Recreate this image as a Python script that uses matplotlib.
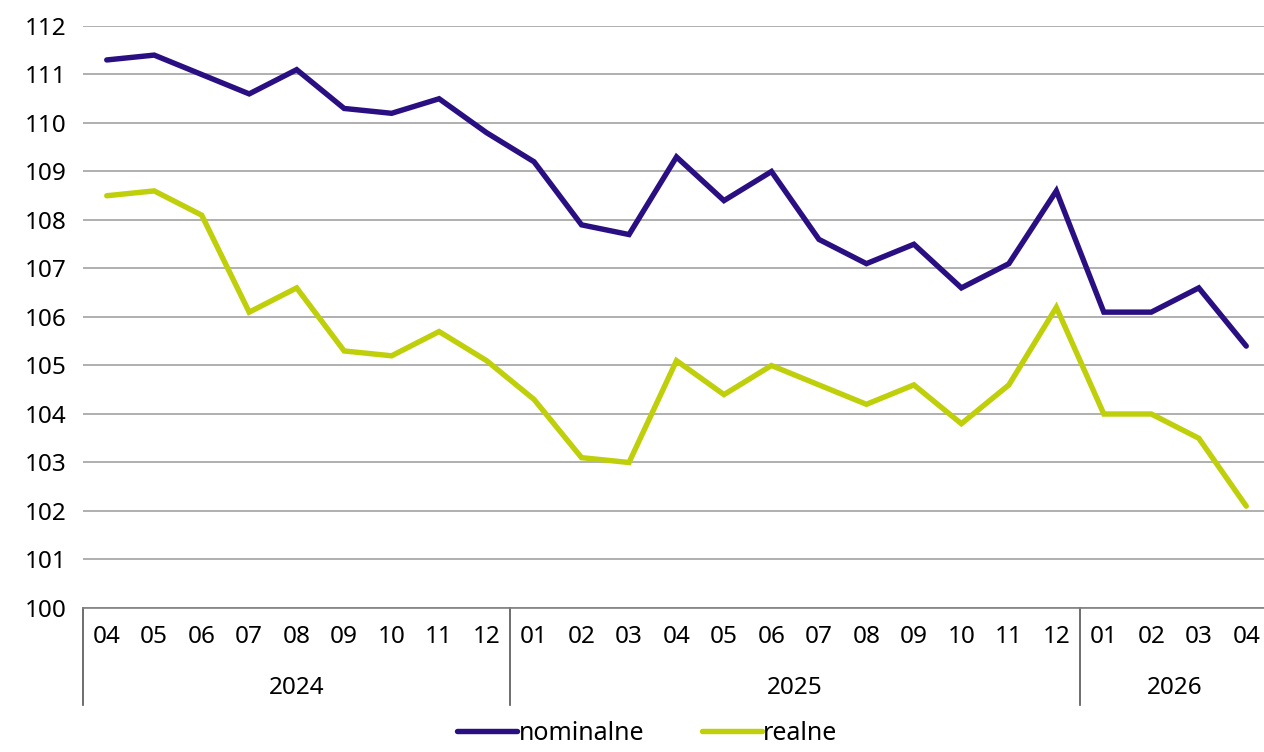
import matplotlib.pyplot as plt
import matplotlib.transforms as mtransforms
import numpy as np

plt.rcParams['font.family'] = ['Noto Sans', 'DejaVu Sans']

months = ["04", "05", "06", "07", "08", "09", "10", "11", "12",
          "01", "02", "03", "04", "05", "06", "07", "08", "09", "10", "11", "12",
          "01", "02", "03", "04"]
years = ["2024", "2025", "2026"]
year_counts = [9, 12, 4]

nominalne = [111.3, 111.4, 111.0, 110.6, 111.1, 110.3, 110.2, 110.5, 109.8,
             109.2, 107.9, 107.7, 109.3, 108.4, 109.0, 107.6, 107.1, 107.5, 106.6, 107.1, 108.6,
             106.1, 106.1, 106.6, 105.4]
realne = [108.5, 108.6, 108.1, 106.1, 106.6, 105.3, 105.2, 105.7, 105.1,
          104.3, 103.1, 103.0, 105.1, 104.4, 105.0, 104.6, 104.2, 104.6, 103.8, 104.6, 106.2,
          104.0, 104.0, 103.5, 102.1]

c_nom = "#2a0f82"
c_real = "#bfcf0a"

fig = plt.figure(figsize=(12.64, 7.52), dpi=100)
ax = fig.add_axes([83/1264, 1 - 608/752, 1187/1264, (608 - 26)/752])

x = np.arange(len(months))
ax.plot(x, nominalne, color=c_nom, lw=3.9, label="nominalne", solid_capstyle="round",
        solid_joinstyle="miter", zorder=3)
ax.plot(x, realne, color=c_real, lw=3.9, label="realne", solid_capstyle="round",
        solid_joinstyle="miter", zorder=3)

ax.set_xlim(-0.5, len(months) - 0.5)
ax.set_ylim(100, 112)
ax.set_yticks(range(100, 113))
ax.grid(axis="y", color="#9a9a9a", lw=1.1)
ax.set_axisbelow(True)
for s in ["top", "right", "left"]:
    ax.spines[s].set_visible(False)
ax.spines["bottom"].set_color("#808080")
ax.spines["bottom"].set_linewidth(1.2)
ax.spines["bottom"].set_zorder(4)

ax.set_xticks(x)
ax.set_xticklabels(months)
ax.tick_params(axis="both", length=0, labelsize=17.5)
ax.tick_params(axis="x", pad=12)
ax.tick_params(axis="y", pad=12)

# year labels and separators
trans = mtransforms.blended_transform_factory(ax.transData, ax.transAxes)
sep_h = (705 - 608) / 582
start = 0
for yr, n in zip(years, year_counts):
    ax.plot([start - 0.5, start - 0.5], [0, -sep_h], color="#555555", lw=1.2,
            transform=trans, clip_on=False)
    ax.text(start + (n - 1) / 2, -(688 - 608) / 582, yr, transform=trans,
            ha="center", va="center", fontsize=17.5)
    start += n

fig.legend(loc="lower center", bbox_to_anchor=(0.512, -0.022), ncol=2, frameon=False,
           fontsize=18, handlelength=2.4, handletextpad=0.05, columnspacing=2.3)

fig.savefig("out.png", dpi=100)
